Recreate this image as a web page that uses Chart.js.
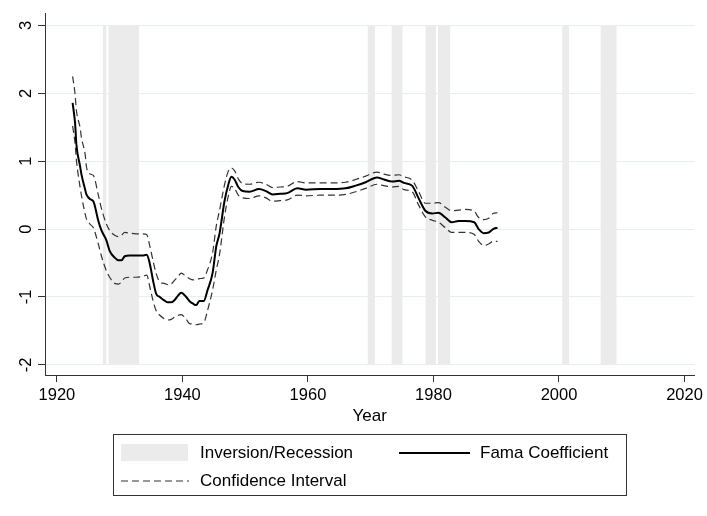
<!DOCTYPE html>
<html>
<head>
<meta charset="utf-8">
<script src="https://cdn.jsdelivr.net/npm/chart.js@4.4.0/dist/chart.umd.min.js"></script>
<style>
  html, body { margin: 0; padding: 0; background: #fff; }
  #wrap { position: relative; width: 707px; height: 516px; font-family: "Liberation Sans", Arial, sans-serif; color: #000; }
  #legend { position: absolute; left: 113px; top: 434px; width: 514px; height: 62px; border: 1px solid #333; box-sizing: border-box; }
  #legend .sw, #legend .txt { position: absolute; }
  #legend .txt { font-size: 17px; line-height: 20px; white-space: nowrap; }
</style>
</head>
<body>
<div id="wrap">
  <canvas id="chart" width="707" height="516"></canvas>
  <div id="legend">
    <div class="sw" style="left:7px; top:9px; width:67px; height:17px; background:#ebebeb;"></div>
    <div class="txt" style="left:86px; top:8px;">Inversion/Recession</div>
    <div class="sw" style="left:285px; top:17px; width:71px; height:2px; background:#000;"></div>
    <div class="txt" style="left:366px; top:8px;">Fama Coefficient</div>
    <svg class="sw" style="left:7px; top:44px;" width="68" height="4"><line x1="0" y1="2" x2="68" y2="2" stroke="#333" stroke-width="1.2" stroke-dasharray="7,4"/></svg>
    <div class="txt" style="left:86px; top:36px;">Confidence Interval</div>
  </div>
</div>
<script>
// years of the estimates (rolling window end points)
const years = [1922.5, 1922.9, 1923.1, 1923.7, 1923.9, 1924.5, 1924.7, 1925.3, 1925.8, 1926.6,
  1927.1, 1927.9, 1928.4, 1929.2, 1929.8, 1930.3, 1930.8, 1931.6, 1932.6, 1933.6,
  1934.3, 1934.8, 1935.3, 1935.8, 1936.4, 1937.1, 1937.7, 1938.2, 1938.7, 1939.3,
  1939.8, 1940.6, 1941.1, 1941.7, 1942.2, 1942.7, 1943.4, 1944.0, 1944.8, 1945.4,
  1945.9, 1946.7, 1947.3, 1947.8, 1948.3, 1948.9, 1949.6, 1950.7, 1952.2, 1953.3,
  1954.4, 1955.6, 1956.7, 1958.3, 1959.7, 1962.0, 1964.0, 1966.0, 1967.6, 1969.2,
  1971.0, 1972.1, 1973.4, 1974.5, 1975.3, 1976.6, 1977.6, 1978.7, 1979.8, 1980.8,
  1981.9, 1982.9, 1984.0, 1985.1, 1986.5, 1987.2, 1988.0, 1988.8, 1989.5, 1990.2];

const fama = [1.86, 1.55, 1.25, 0.92, 0.81, 0.58, 0.51, 0.44, 0.41, 0.12,
  -0.02, -0.17, -0.32, -0.42, -0.46, -0.46, -0.40, -0.39, -0.39, -0.39,
  -0.38, -0.51, -0.75, -0.95, -1.00, -1.05, -1.08, -1.08, -1.05, -0.98,
  -0.94, -1.00, -1.06, -1.10, -1.12, -1.06, -1.06, -0.90, -0.65, -0.25,
  -0.07, 0.41, 0.65, 0.77, 0.73, 0.62, 0.56, 0.55, 0.59, 0.56,
  0.51, 0.52, 0.53, 0.60, 0.58, 0.59, 0.59, 0.60, 0.64, 0.69,
  0.76, 0.73, 0.70, 0.71, 0.68, 0.64, 0.46, 0.27, 0.23, 0.24,
  0.17, 0.10, 0.12, 0.12, 0.10, 0.00, -0.06, -0.05, 0.00, 0.02];

const upper = [2.25, 1.98, 1.75, 1.49, 1.35, 1.10, 0.92, 0.81, 0.79, 0.50,
  0.30, 0.07, -0.02, -0.09, -0.11, -0.09, -0.05, -0.06, -0.07, -0.07,
  -0.08, -0.25, -0.46, -0.65, -0.78, -0.80, -0.82, -0.81, -0.76, -0.70,
  -0.65, -0.70, -0.73, -0.75, -0.75, -0.73, -0.72, -0.60, -0.35, 0.05,
  0.27, 0.65, 0.85, 0.90, 0.86, 0.74, 0.67, 0.66, 0.69, 0.66,
  0.61, 0.62, 0.63, 0.70, 0.68, 0.68, 0.68, 0.69, 0.73, 0.78,
  0.84, 0.81, 0.79, 0.80, 0.77, 0.72, 0.56, 0.38, 0.38, 0.39,
  0.32, 0.27, 0.28, 0.29, 0.26, 0.17, 0.14, 0.16, 0.23, 0.24];

const lower = [1.52, 1.25, 1.02, 0.61, 0.50, 0.22, 0.15, 0.07, 0.02, -0.22,
  -0.40, -0.62, -0.71, -0.80, -0.81, -0.78, -0.72, -0.71, -0.71, -0.70,
  -0.68, -0.85, -1.05, -1.20, -1.27, -1.32, -1.34, -1.33, -1.30, -1.27,
  -1.26, -1.33, -1.39, -1.40, -1.41, -1.40, -1.38, -1.20, -0.90, -0.60,
  -0.38, 0.18, 0.48, 0.63, 0.60, 0.50, 0.46, 0.45, 0.49, 0.46,
  0.41, 0.42, 0.43, 0.50, 0.49, 0.50, 0.50, 0.51, 0.55, 0.60,
  0.66, 0.64, 0.62, 0.63, 0.58, 0.55, 0.36, 0.18, 0.13, 0.10,
  0.02, -0.05, -0.05, -0.05, -0.08, -0.18, -0.24, -0.22, -0.18, -0.18];

// inversion / recession periods
const recStart = [1927.3, 1928.2, 1969.5, 1973.3, 1978.7, 1980.7, 2000.5, 2006.6];
const recEnd   = [1927.9, 1933.1, 1970.7, 1975.1, 1980.4, 1982.7, 2001.6, 2009.2];
const recLow = -2, recHigh = 3;

const xTicks = [1920, 1940, 1960, 1980, 2000, 2020];
const yTicks = [-2, -1, 0, 1, 2, 3];

const pts = (vals) => years.map((x, i) => ({ x: x, y: vals[i] }));

const datasets = [
  { label: 'Fama Coefficient', data: pts(fama), borderColor: '#000', borderWidth: 2,
    pointRadius: 0, cubicInterpolationMode: 'monotone', fill: false },
  { label: 'Confidence Interval', data: pts(upper), borderColor: '#333', borderWidth: 1.2,
    borderDash: [7, 4], pointRadius: 0, cubicInterpolationMode: 'monotone', fill: false },
  { label: 'Confidence Interval (low)', data: pts(lower), borderColor: '#333', borderWidth: 1.2,
    borderDash: [7, 4], pointRadius: 0, cubicInterpolationMode: 'monotone', fill: false },
];

recStart.forEach((s, i) => {
  datasets.push({
    label: 'Inversion/Recession',
    data: [{ x: s, y: recHigh }, { x: recEnd[i], y: recHigh }],
    borderWidth: 0, borderColor: 'rgba(0,0,0,0)', backgroundColor: '#ebebeb',
    pointRadius: 0, fill: { value: recLow },
  });
});

const font = { family: '"Liberation Sans", Arial, sans-serif', size: 16.5 };

new Chart(document.getElementById('chart'), {
  type: 'line',
  data: { datasets: datasets },
  options: {
    responsive: false,
    animation: false,
    layout: { padding: { left: 0, right: 10, top: 12, bottom: 89 } },
    plugins: { legend: { display: false }, tooltip: { enabled: false } },
    scales: {
      x: {
        type: 'linear', min: 1918.1, max: 2021.6,
        afterBuildTicks: (s) => { s.ticks = xTicks.map(v => ({ value: v })); },
        afterFit: (s) => { s.height = 52; },
        grid: { drawOnChartArea: false, drawTicks: true, tickLength: 7, tickColor: '#333' },
        border: { color: '#333', width: 1 },
        ticks: { color: '#000', font: font, padding: 4, maxRotation: 0, callback: (v) => String(v) },
        title: { display: true, text: 'Year', color: '#000',
          font: { family: font.family, size: 17 }, padding: { top: 2, bottom: 0 } },
      },
      y: {
        type: 'linear', min: -2.15, max: 3.17,
        afterBuildTicks: (s) => { s.ticks = yTicks.map(v => ({ value: v })); },
        afterFit: (s) => { s.width = 45; },
        grid: { color: '#e6eef0', lineWidth: 1, tickLength: 7, tickColor: '#333' },
        border: { color: '#333', width: 1 },
        ticks: { color: '#000', font: font, padding: 4, minRotation: 90, maxRotation: 90,
          crossAlign: 'center', callback: (v) => String(v) },
      },
    },
  },
});
</script>
</body>
</html>
